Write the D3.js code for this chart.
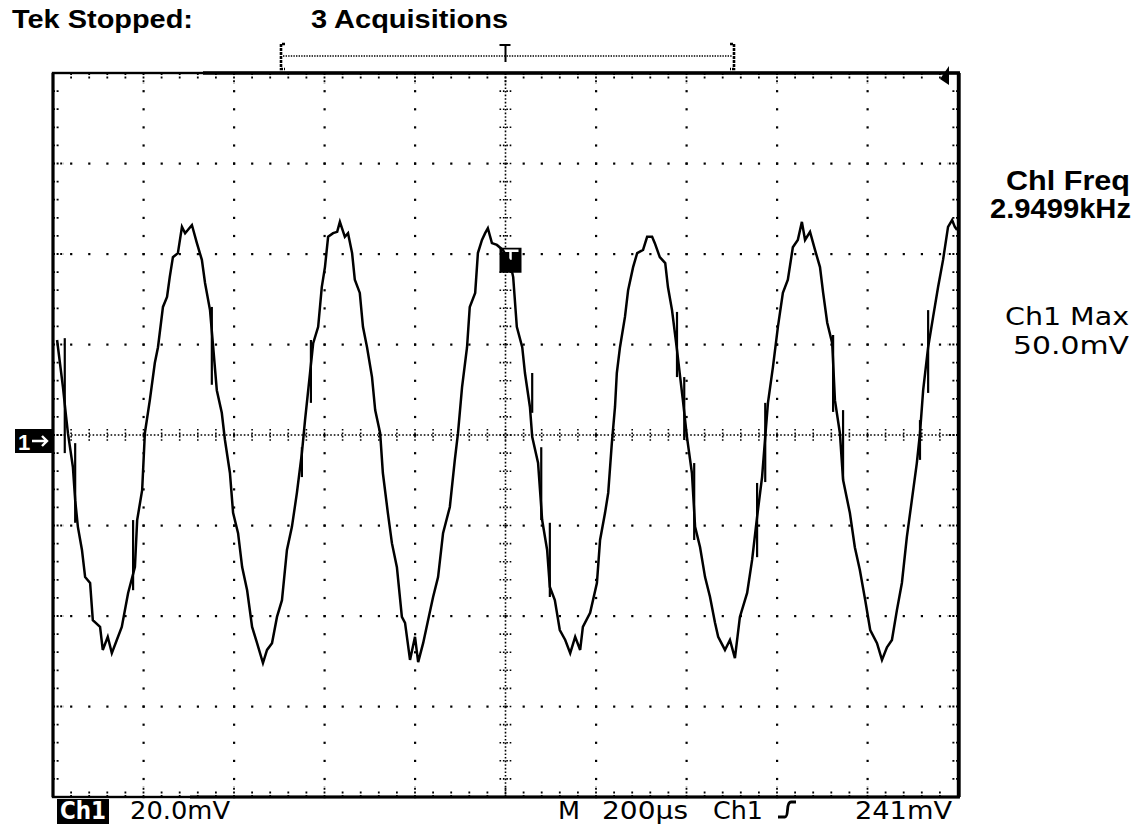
<!DOCTYPE html>
<html><head><meta charset="utf-8">
<script src="https://cdn.jsdelivr.net/npm/d3@7/dist/d3.min.js"></script>
<style>html,body{margin:0;padding:0;background:#fff;}svg{display:block;}</style>
</head><body>
<svg id="c" width="1136" height="826"></svg>
<script>
// ---- data (time in µs, Ch1 in mV) ----
const ch1Trace = [
[-991,21.0],[-978,10.6],[-971,4.0],[-967,0.4],[-956,-7.1],[-951,-14.4],[-945,-20.3],[-936,-25.4],[-929,-31.4],[-918,-32.7],
[-912,-40.9],[-896,-42.4],[-890,-47.5],[-879,-44.6],[-870,-48.2],[-859,-45.3],[-848,-42.4],[-834,-34.9],[-819,-29.2],[-814,-18.8],
[-803,-12.2],[-797,0.4],[-786,7.7],[-775,15.9],[-768,19.4],[-757,28.3],[-748,30.5],[-742,34.9],[-735,39.3],[-724,40.2],
[-715,46.0],[-708,44.6],[-702,45.3],[-693,46.4],[-682,42.4],[-671,38.7],[-664,33.6],[-653,27.6],[-646,19.4],[-638,9.9],
[-627,4.9],[-620,-1.1],[-609,-8.4],[-602,-17.2],[-591,-21.7],[-582,-29.2],[-571,-34.3],[-560,-42.4],[-549,-46.0],[-536,-50.4],
[-527,-47.5],[-516,-46.0],[-505,-40.2],[-494,-36.5],[-483,-25.4],[-472,-20.3],[-461,-12.8],[-450,-4.0],[-443,3.3],[-432,13.7],
[-425,20.3],[-414,23.9],[-406,32.7],[-399,37.1],[-392,43.8],[-381,44.6],[-372,44.9],[-366,47.1],[-355,43.8],[-348,44.6],
[-339,40.2],[-333,34.3],[-322,31.4],[-315,23.9],[-306,19.4],[-295,12.8],[-288,5.5],[-277,0.4],[-271,-8.4],[-260,-17.2],
[-251,-23.9],[-240,-29.2],[-229,-40.2],[-222,-41.5],[-211,-49.7],[-200,-44.6],[-193,-50.2],[-182,-46.0],[-171,-40.9],[-160,-35.8],
[-149,-31.4],[-138,-21.7],[-123,-15.9],[-112,-5.5],[-105,0.4],[-96,10.6],[-85,19.4],[-79,28.3],[-67,31.4],[-61,40.2],
[-52,43.1],[-45,44.6],[-39,45.7],[-30,42.4],[-19,42.0],[-6,40.9],[10,38.2],[17,34.9],[25,23.9],[37,19.4],
[43,13.7],[54,6.2],[59,-0.4],[72,-6.2],[81,-18.8],[92,-25.4],[98,-33.6],[109,-36.5],[120,-43.1],[132,-45.3],
[143,-48.2],[154,-44.6],[165,-47.5],[171,-42.4],[187,-39.3],[202,-32.7],[209,-23.2],[220,-17.2],[227,-12.8],[235,-1.8],
[242,6.2],[246,13.7],[253,19.4],[264,26.1],[271,32.0],[282,37.1],[291,40.2],[304,40.9],[313,43.8],[324,43.8],
[330,42.4],[341,39.3],[353,38.0],[359,32.7],[368,27.6],[379,18.8],[386,12.8],[392,7.7],[401,-0.4],[412,-8.4],
[419,-20.3],[430,-24.8],[441,-31.4],[452,-35.8],[463,-41.5],[470,-44.6],[485,-47.5],[496,-45.3],[507,-49.3],[518,-40.2],
[534,-34.9],[545,-27.6],[556,-18.1],[567,-9.3],[574,-0.4],[580,7.1],[591,15.0],[602,23.9],[613,31.4],[624,34.3],
[635,41.5],[646,43.1],[655,47.1],[662,43.1],[673,44.9],[684,40.9],[695,37.1],[702,31.4],[711,24.8],[722,20.3],
[728,7.7],[739,0.4],[746,-9.9],[761,-17.2],[772,-24.8],[783,-29.8],[795,-36.5],[806,-43.1],[821,-46.0],[832,-49.7],
[843,-46.9],[854,-45.3],[865,-38.7],[876,-32.7],[887,-22.5],[898,-14.4],[909,-6.2],[916,0.4],[923,9.9],[934,19.4],
[945,26.1],[956,32.7],[967,38.7],[978,46.0],[987,47.5],[993,46.0],[998,45.3]
];
// envelope spikes from the 3 acquisitions: [time µs, high mV, low mV]
const ch1Spikes = [
[-974,21.4,-4.0],[-951,-1.8,-19.4],[-823,-18.8,-34.3],[-649,28.3,11.1],[-450,-2.7,-9.3],[-430,21.0,7.1],
[59,13.7,4.9],[79,-2.7,-18.8],[98,-19.4,-35.8],[379,27.2,12.8],[395,12.8,-1.1],[417,-6.2,-23.2],
[556,-10.6,-27.0],[574,7.1,-10.4],[724,22.1,5.1],[746,5.5,-9.9],[916,3.3,-5.5],[934,27.6,9.3]
];
const timeDomain = [-1000, 1000];   // 10 div × 200 µs
const voltDomain = [-80, 80];       // 8 div × 20 mV
const timePerDiv = 200, voltPerDiv = 20;
const headerLeft = "Tek Stopped:";
const headerMid = "3 Acquisitions";
const freqLabel = ["Chl Freq", "2.9499kHz"];
const maxLabel = ["Ch1 Max", "50.0mV"];
const chScale = ["Ch1", "20.0mV"];
const timebase = ["M", "200µs", "Ch1", "241mV"];
const triggerTime = 0, triggerMarkV = 40.5;

// ---- drawing ----
const svg = d3.select("#c");
svg.append("rect").attr("width",1136).attr("height",826).attr("fill","#fff");
const X = d3.scaleLinear().domain(timeDomain).range([53, 958]);
const Y = d3.scaleLinear().domain(voltDomain).range([797, 73]);

const majorT = d3.range(timeDomain[0], timeDomain[1] + 1, timePerDiv);
const minorT = d3.range(timeDomain[0], timeDomain[1] + 1, timePerDiv / 5);
const majorV = d3.range(voltDomain[0], voltDomain[1] + 1, voltPerDiv);
const minorV = d3.range(voltDomain[0], voltDomain[1] + 1, voltPerDiv / 5);

const g = svg.append("g");
// grid dots
const dots = [];
majorT.filter(t => t > timeDomain[0] && t < timeDomain[1] && t !== 0)
  .forEach(t => minorV.forEach(v => dots.push([X(t), Y(v)])));
majorV.filter(v => v > voltDomain[0] && v < voltDomain[1] && v !== 0)
  .forEach(v => minorT.forEach(t => dots.push([X(t), Y(v)])));
g.selectAll("rect.dot").data(dots).join("rect").attr("class","dot")
  .attr("x", d => d[0]-1).attr("y", d => d[1]-1).attr("width",2.2).attr("height",2.2).attr("fill","#000");

// center crosshair
g.append("line").attr("x1",X(0)).attr("x2",X(0)).attr("y1",Y(80)).attr("y2",Y(-80))
  .attr("stroke","#000").attr("stroke-width",1.6).attr("stroke-dasharray","1.6,2");
g.append("line").attr("x1",X(-1000)).attr("x2",X(1000)).attr("y1",Y(0)).attr("y2",Y(0))
  .attr("stroke","#000").attr("stroke-width",1.6).attr("stroke-dasharray","1.6,2");
g.selectAll("line.cv").data(minorV).join("line").attr("class","cv")
  .attr("x1",X(0)-6).attr("x2",X(0)+6).attr("y1",d=>Y(d)).attr("y2",d=>Y(d))
  .attr("stroke","#000").attr("stroke-width",1.6).attr("stroke-dasharray","1.6,1.8");
g.selectAll("line.ch").data(minorT).join("line").attr("class","ch")
  .attr("y1",Y(0)-6).attr("y2",Y(0)+6).attr("x1",d=>X(d)).attr("x2",d=>X(d))
  .attr("stroke","#000").attr("stroke-width",1.6).attr("stroke-dasharray","1.6,1.8");

// border ticks
const tickLen = (isMajor) => isMajor ? 11 : 7;
const isMajT = t => (t - timeDomain[0]) % timePerDiv === 0;
const isMajV = v => (v - voltDomain[0]) % voltPerDiv === 0;
[[Y(80), 1], [Y(-80), -1]].forEach(([yb, dir]) => {
  g.selectAll(null).data(minorT).join("line")
    .attr("x1",d=>X(d)).attr("x2",d=>X(d)).attr("y1",yb).attr("y2",d=>yb+dir*tickLen(isMajT(d)))
    .attr("stroke","#000").attr("stroke-width",1.8).attr("stroke-dasharray","2,1.6");
});
[[X(-1000), 1], [X(1000), -1]].forEach(([xb, dir]) => {
  g.selectAll(null).data(minorV).join("line")
    .attr("y1",d=>Y(d)).attr("y2",d=>Y(d)).attr("x1",xb).attr("x2",d=>xb+dir*tickLen(isMajV(d)))
    .attr("stroke","#000").attr("stroke-width",1.8).attr("stroke-dasharray","2,1.6");
});

// border
g.append("rect").attr("x",X(-1000)).attr("y",Y(80)).attr("width",X(1000)-X(-1000)).attr("height",Y(-80)-Y(80))
  .attr("fill","none").attr("stroke","#000").attr("stroke-width",2.4);
g.append("line").attr("x1",203).attr("x2",X(1000)+2).attr("y1",Y(80)).attr("y2",Y(80)).attr("stroke","#000").attr("stroke-width",3.6);
g.append("line").attr("x1",190).attr("x2",X(1000)+2).attr("y1",Y(-80)).attr("y2",Y(-80)).attr("stroke","#000").attr("stroke-width",3);
g.append("line").attr("x1",X(1000)+1).attr("x2",X(1000)+1).attr("y1",Y(80)).attr("y2",Y(-80)).attr("stroke","#000").attr("stroke-width",3.4);
g.append("line").attr("x1",X(-1000)).attr("x2",X(-1000)).attr("y1",Y(80)).attr("y2",Y(-80)).attr("stroke","#000").attr("stroke-width",3);

// trigger-position marker at top right
g.append("path").attr("d",`M${X(1000)-18},${Y(80)+6} L${X(1000)-9},${Y(80)-7} L${X(1000)-9},${Y(80)+12} Z`).attr("fill","#000");

// cursor marker on waveform
const mx = X(triggerTime), my = Y(triggerMarkV);
g.append("rect").attr("x",mx-6).attr("y",my-4).attr("width",22).attr("height",25).attr("fill","#000");
g.append("path").attr("d",`M${mx-3},${my-1} H${mx+13} M${mx+5},${my-1} V${my+8}`).attr("stroke","#fff").attr("stroke-width",2.5);

// trace
const line = d3.line().x(d => X(d[0])).y(d => Y(d[1])).curve(d3.curveLinear);
g.append("path").datum(ch1Trace).attr("d",line).attr("fill","none").attr("stroke","#000")
  .attr("stroke-width",2.5).attr("stroke-linejoin","miter");
g.selectAll("line.spk").data(ch1Spikes).join("line").attr("class","spk")
  .attr("x1",d=>X(d[0])).attr("x2",d=>X(d[0])).attr("y1",d=>Y(d[1])).attr("y2",d=>Y(d[2]))
  .attr("stroke","#000").attr("stroke-width",2.2);

// ground marker "1→"
const gy = Y(0);
g.append("rect").attr("x",15).attr("y",gy-6).attr("width",37).attr("height",24).attr("fill","#000");
g.append("text").attr("x",18).attr("y",gy+15).attr("font-family","Liberation Sans, Arial, sans-serif")
  .attr("font-weight","bold").attr("font-size",22).attr("fill","#fff").text("1");
g.append("path").attr("d",`M32,${gy+6} H47 M42,${gy+1} L47,${gy+6} L42,${gy+11}`).attr("stroke","#fff").attr("stroke-width",2.4).attr("fill","none");

// header texts
const bold = "Liberation Sans, Arial, Helvetica, sans-serif";
const tek = "DejaVu Sans, Verdana, sans-serif";
svg.append("text").attr("x",12).attr("y",28).attr("font-family",bold).attr("font-weight","bold")
  .attr("font-size",25).attr("textLength",181).attr("lengthAdjust","spacingAndGlyphs").text(headerLeft);
svg.append("text").attr("x",311).attr("y",28).attr("font-family",bold).attr("font-weight","bold")
  .attr("font-size",25).attr("textLength",197).attr("lengthAdjust","spacingAndGlyphs").text(headerMid);

// record bracket with trigger T
const bx0 = 280, bx1 = 735, by = 56;
svg.append("line").attr("x1",bx0+3).attr("x2",bx1-3).attr("y1",by).attr("y2",by).attr("stroke","#000").attr("stroke-width",1.4).attr("stroke-dasharray","1.4,1.2");
svg.append("path").attr("d",`M${bx0+5},44 H${bx0+1} V69 H${bx0+5}`).attr("stroke","#000").attr("stroke-width",2.6).attr("fill","none").attr("stroke-dasharray","3,1");
svg.append("path").attr("d",`M${bx1-5},44 H${bx1-1} V69 H${bx1-5}`).attr("stroke","#000").attr("stroke-width",2.6).attr("fill","none").attr("stroke-dasharray","3,1");
svg.append("path").attr("d",`M${X(triggerTime)-6},45 H${X(triggerTime)+5} M${X(triggerTime)},45 V62`).attr("stroke","#000").attr("stroke-width",2).attr("fill","none");

// right readouts
svg.append("text").attr("x",1130).attr("y",190).attr("text-anchor","end").attr("font-family",bold).attr("font-weight","bold")
  .attr("font-size",28).attr("textLength",124).attr("lengthAdjust","spacingAndGlyphs").text(freqLabel[0]);
svg.append("text").attr("x",1131).attr("y",218).attr("text-anchor","end").attr("font-family",bold).attr("font-weight","bold")
  .attr("font-size",28).attr("textLength",141).attr("lengthAdjust","spacingAndGlyphs").text(freqLabel[1]);
svg.append("text").attr("x",1005).attr("y",325).attr("font-family",tek)
  .attr("font-size",24).attr("textLength",124).attr("lengthAdjust","spacingAndGlyphs").text(maxLabel[0]);
svg.append("text").attr("x",1013).attr("y",354).attr("font-family",tek)
  .attr("font-size",24).attr("textLength",116).attr("lengthAdjust","spacingAndGlyphs").text(maxLabel[1]);

// bottom readouts
svg.append("rect").attr("x",57).attr("y",799).attr("width",52).attr("height",25).attr("fill","#000");
svg.append("text").attr("x",60).attr("y",819).attr("font-family",tek).attr("font-weight","bold").attr("fill","#fff")
  .attr("font-size",24).attr("textLength",46).attr("lengthAdjust","spacingAndGlyphs").text(chScale[0]);
svg.append("text").attr("x",130).attr("y",819).attr("font-family",tek)
  .attr("font-size",25).attr("textLength",100).attr("lengthAdjust","spacingAndGlyphs").text(chScale[1]);
const tbPos = [[558,22],[602,86],[713,50],[855,97]];
timebase.forEach((s,i) => {
  svg.append("text").attr("x",tbPos[i][0]).attr("y",819).attr("font-family",tek)
    .attr("font-size",25).attr("textLength",tbPos[i][1]).attr("lengthAdjust","spacingAndGlyphs").text(s);
});
// rising-edge trigger symbol
svg.append("path").attr("d","M778,817 H785 Q787,817 787.5,810 Q788,802 791,802 H796")
  .attr("stroke","#000").attr("stroke-width",2.8).attr("fill","none");
</script>
</body></html>
